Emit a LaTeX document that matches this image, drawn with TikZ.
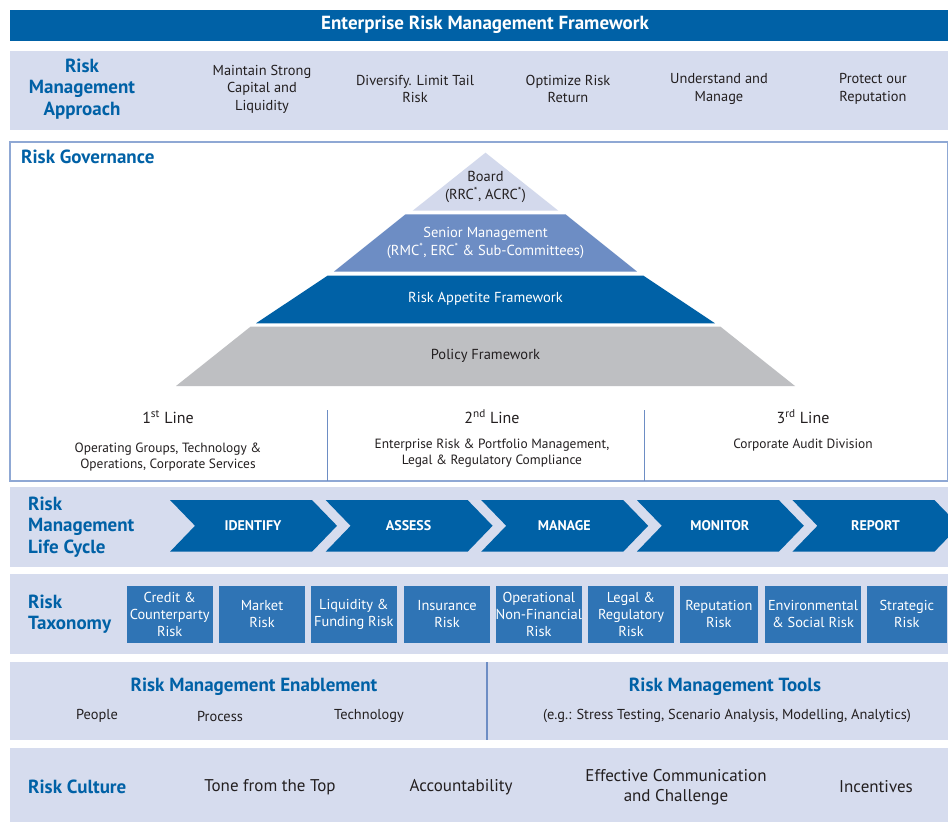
\documentclass[tikz,border=0pt]{standalone}
\usepackage{fontspec}
\setmainfont{PT Sans}
\definecolor{ermblue}{HTML}{0061A6}
\definecolor{bandbg}{HTML}{D6DCEE}
\definecolor{boardc}{HTML}{D3D9EC}
\definecolor{seniorc}{HTML}{6D8DC4}
\definecolor{policyc}{HTML}{BEBFC2}
\definecolor{taxc}{HTML}{2F74B5}
\definecolor{govline}{HTML}{8FA8D4}
\definecolor{txt}{HTML}{231F20}
\tikzset{
  band/.style={fill=bandbg, draw=none},
  heading/.style={text=ermblue, inner sep=0pt, align=left, font=\bfseries\fontsize{19}{21.5}\selectfont},
  ctrhead/.style={text=ermblue, inner sep=0pt, align=center, font=\bfseries\fontsize{19}{21.5}\selectfont},
  item/.style={text=txt, inner sep=0pt, align=center, font=\fontsize{14.4}{17.5}\selectfont},
  bigitem/.style={text=txt, inner sep=0pt, align=center, font=\fontsize{17}{20}\selectfont},
  lineitem/.style={text=txt, inner sep=0pt, align=center, font=\fontsize{16}{20}\selectfont},
  small/.style={text=txt, inner sep=0pt, align=center, font=\fontsize{13.4}{15.5}\selectfont},
  tier/.style={text=txt, inner sep=0pt, align=center, font=\fontsize{14.5}{17.5}\selectfont},
  chev/.style={fill=ermblue, draw=none},
  chevtext/.style={text=white, inner sep=0pt, font=\bfseries\fontsize{14}{16}\selectfont},
  taxbox/.style={text=white, inner sep=0pt, align=center, font=\fontsize{14.4}{17}\selectfont},
  divider/.style={draw=seniorc, line width=1.3pt}
}
\begin{document}
\begin{tikzpicture}[x=1pt,y=-1pt]
\useasboundingbox (0,0) rectangle (948,822);
\clip (0,0) rectangle (948,822);
\fill[white] (0,0) rectangle (948,822);

% title bar
\fill[ermblue] (10,10) rectangle (948,41);
\node[text=white, inner sep=0pt, font=\bfseries\fontsize{19}{22}\selectfont] (title) at (485,25) {Enterprise Risk Management Framework};

% approach band
\fill[band] (10,51) rectangle (948,130);
\node[ctrhead] (appr) at (82,89) {Risk\\Management\\Approach};
\node[item] (a1) at (262,89) {Maintain Strong\\Capital and\\Liquidity};
\node[item] (a2) at (415,89) {Diversify. Limit Tail\\Risk};
\node[item] (a3) at (568,89) {Optimize Risk\\Return};
\node[item] (a4) at (719,89) {Understand and\\Manage};
\node[item] (a5) at (873,89) {Protect our\\Reputation};

% governance box
\draw[govline, line width=1.2pt] (10,142) rectangle (948,481);
\node[heading, anchor=west] (gov) at (21,157) {Risk Governance};

% pyramid
\fill[boardc] (485.5,152.7) -- (558.3,210.7) -- (412.7,210.7) -- cycle;
\fill[seniorc] (405.5,214.3) -- (565.5,214.3) -- (637.2,271.7) -- (333.8,271.7) -- cycle;
\fill[ermblue] (327.5,275.7) -- (643.5,275.7) -- (715,323.3) -- (256,323.3) -- cycle;
\fill[policyc] (250.5,326.7) -- (720.5,326.7) -- (795,386) -- (176,386) -- cycle;
\node[tier] (board) at (485.5,187) {Board\\(RRC\textsuperscript{*}, ACRC\textsuperscript{*})};
\node[tier, text=white] (senior) at (485.5,243) {Senior Management\\(RMC\textsuperscript{*}, ERC\textsuperscript{*} \& Sub-Committees)};
\node[tier, text=white] (raf) at (485.5,299) {Risk Appetite Framework};
\node[tier] (policy) at (485.5,356) {Policy Framework};

% lines of defence
\draw[divider, line width=1pt] (327,410) -- (327,481);
\draw[divider, line width=1pt] (644,410) -- (644,481);
\node[lineitem] (l1) at (168,417) {1\textsuperscript{st} Line};
\node[lineitem] (l2) at (492,417) {2\textsuperscript{nd} Line};
\node[lineitem] (l3) at (803,417) {3\textsuperscript{rd} Line};
\node[small] (d1) at (168,457) {Operating Groups, Technology \&\\Operations, Corporate Services};
\node[small] (d2) at (492,453) {Enterprise Risk \& Portfolio Management,\\Legal \& Regulatory Compliance};
\node[small] (d3) at (803,445) {Corporate Audit Division};

% life cycle
\fill[band] (10,487) rectangle (948,567);
\node[heading, anchor=west] (lc) at (28,527) {Risk\\Management\\Life Cycle};
\foreach \L/\name/\lab in {170/c1/IDENTIFY, 325.6/c2/ASSESS, 481.2/c3/MANAGE, 636.8/c4/MONITOR, 792.4/c5/REPORT}{
  \fill[chev] (\L,500) -- ({\L+142},500) -- ({\L+167},525.8) -- ({\L+142},551.7) -- (\L,551.7) -- ({\L+25},525.8) -- cycle;
  \node[chevtext] (\name) at ({\L+83},526) {\lab};
}

% taxonomy
\fill[band] (10,574) rectangle (948,654);
\node[heading, anchor=west] (tax) at (28,614) {Risk\\Taxonomy};
\foreach \xa/\xb/\name/\lab in {
  126.7/212.7/t1/{Credit \&\\Counterparty\\Risk},
  219/305/t2/{Market\\Risk},
  311/396.7/t3/{Liquidity \&\\Funding Risk},
  404/490/t4/{Insurance\\Risk},
  496/581.7/t5/{Operational\\Non-Financial\\Risk},
  588/674/t6/{Legal \&\\Regulatory\\Risk},
  680/757.7/t7/{Reputation\\Risk},
  765/861/t8/{Environmental\\\& Social Risk},
  866.7/947/t9/{Strategic\\Risk}}{
  \fill[taxc] (\xa,586) rectangle (\xb,642.7);
  \node[taxbox] (\name) at ({(\xa+\xb)/2},614.3) {\lab};
}

% enablement & tools
\fill[band] (10,662) rectangle (948,740);
\draw[divider] (487,662) -- (487,740);
\node[ctrhead] (en) at (254,687) {Risk Management Enablement};
\node[item] (p1) at (97,716) {People};
\node[item] (p2) at (220,716) {Process};
\node[item] (p3) at (369,716) {Technology};
\node[ctrhead] (tools) at (725,687) {Risk Management Tools};
\node[item] (tl) at (727,716) {(e.g.: Stress Testing, Scenario Analysis, Modelling, Analytics)};

% culture
\fill[band] (10,748) rectangle (948,822);
\node[heading, anchor=west] (cul) at (28,787) {Risk Culture};
\node[bigitem] (k1) at (270,787) {Tone from the Top};
\node[bigitem] (k2) at (461,787) {Accountability};
\node[bigitem] (k3) at (676,787) {Effective Communication\\and Challenge};
\node[bigitem] (k4) at (876,787) {Incentives};
\end{tikzpicture}
\end{document}
